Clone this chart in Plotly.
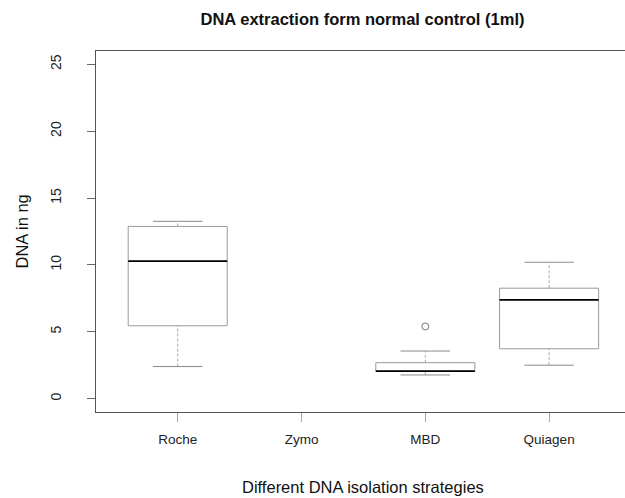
import plotly.graph_objects as go

# ---- data ----
categories = ["Roche", "Zymo", "MBD", "Quiagen"]
lower_whisker = [2.40, None, 1.77, 2.50]
q1 = [5.45, None, 2.05, 3.73]
median = [10.28, None, 2.05, 7.39]
q3 = [12.88, None, 2.69, 8.26]
upper_whisker = [13.26, None, 3.56, 10.20]
outlier_cat = ["MBD"]
outlier_val = [5.40]

y_ticks = [0, 5, 10, 15, 20, 25]

# ---- style ----
FONT = "Liberation Sans"
HALF = 0.4          # half box width (R boxwex 0.8)
STAPLE = 0.2        # half staple width
BOX_COL = "#9a9a9a"
WHISK_COL = "#a8a8a8"
STAPLE_COL = "#8a8a8a"

fig = go.Figure()
positions = {c: i + 1 for i, c in enumerate(categories)}

for i, c in enumerate(categories):
    if q1[i] is None:
        continue
    xc = positions[c]
    # whiskers (dashed)
    fig.add_trace(go.Scatter(x=[xc, xc, None, xc, xc],
                             y=[lower_whisker[i], q1[i], None, q3[i], upper_whisker[i]],
                             mode="lines", line=dict(color=WHISK_COL, width=1, dash="3px,2px"),
                             hoverinfo="skip", showlegend=False))
    # staples
    fig.add_trace(go.Scatter(x=[xc - STAPLE, xc + STAPLE, None, xc - STAPLE, xc + STAPLE],
                             y=[lower_whisker[i], lower_whisker[i], None, upper_whisker[i], upper_whisker[i]],
                             mode="lines", line=dict(color=STAPLE_COL, width=1),
                             hoverinfo="skip", showlegend=False))
    # box
    fig.add_trace(go.Scatter(x=[xc - HALF, xc + HALF, xc + HALF, xc - HALF, xc - HALF],
                             y=[q1[i], q1[i], q3[i], q3[i], q1[i]],
                             mode="lines", line=dict(color=BOX_COL, width=1),
                             hoverinfo="skip", showlegend=False))
    # median
    fig.add_trace(go.Scatter(x=[xc - HALF, xc + HALF], y=[median[i], median[i]],
                             mode="lines", line=dict(color="#000000", width=1.8),
                             hoverinfo="skip", showlegend=False))

fig.add_trace(go.Scatter(x=[positions[c] for c in outlier_cat], y=outlier_val,
                         mode="markers",
                         marker=dict(symbol="circle-open", size=7, color="#777777", line=dict(width=1)),
                         hoverinfo="skip", showlegend=False))

fig.update_layout(
    width=625, height=498,
    margin=dict(l=96, r=0, t=51, b=86),
    paper_bgcolor="white", plot_bgcolor="white",
    font=dict(family=FONT, color="#222222"),
    title=dict(text="<b>DNA extraction form normal control (1ml)</b>",
               x=362.5 / 625, xref="container", xanchor="center",
               y=1 - 19 / 498, yref="container", yanchor="middle",
               font=dict(size=16.5, color="#111111", family=FONT)),
    xaxis=dict(range=[0.34, 4.613], tickmode="array",
               tickvals=[positions[c] for c in categories], ticktext=categories,
               showgrid=False, zeroline=False, showline=True, mirror=True,
               linecolor="#555555", linewidth=1,
               ticks="outside", ticklen=9, tickcolor="#aaaaaa", tickwidth=1,
               tickfont=dict(size=13.5, color="#222222"), ticklabelstandoff=6),
    yaxis=dict(range=[-1, 26], tickmode="array", tickvals=y_ticks,
               ticktext=[str(v) for v in y_ticks], tickangle=-90,
               showgrid=False, zeroline=False, showline=True,
               linecolor="#555555", linewidth=1,
               ticks="outside", ticklen=8, tickcolor="#666666", tickwidth=1,
               tickfont=dict(size=14, color="#222222"), ticklabelstandoff=20),
    annotations=[
        dict(text="Different DNA isolation strategies", xref="paper", yref="paper",
             x=(363 - 96) / 529, y=-(488 - 412.4) / 361.8, xanchor="center", yanchor="middle",
             showarrow=False, font=dict(size=16.5, color="#111111", family=FONT)),
        dict(text="DNA in ng", xref="paper", yref="paper",
             x=(21 - 96) / 529, y=0.5, xanchor="center", yanchor="middle", textangle=-90,
             showarrow=False, font=dict(size=16.5, color="#111111", family=FONT)),
    ],
)

fig.write_html("out.html")
